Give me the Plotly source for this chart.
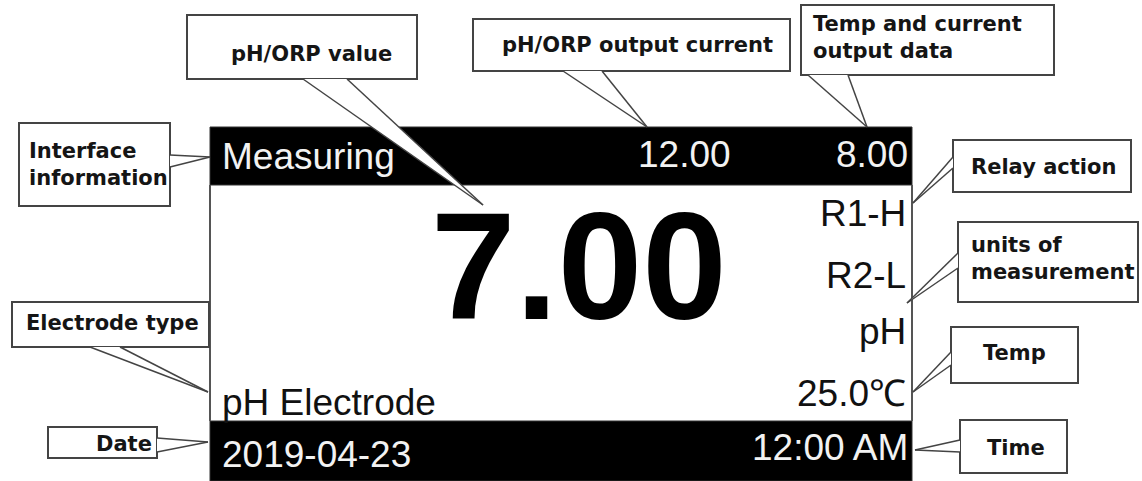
import plotly.graph_objects as go

# ---------------- data (texts) ----------------
status_text = "Measuring"
output_current = "12.00"
temp_current_output = "8.00"
relay_states = ["R1-H", "R2-L"]
unit_text = "pH"
temperature_text = "25.0℃"
main_value = "7.00"
electrode_text = "pH Electrode"
date_text = "2019-04-23"
time_text = "12:00 AM"

callout_labels = [
    "pH/ORP value",
    "pH/ORP output current",
    "Temp and current<br>output data",
    "Relay action",
    "units of<br>measurement",
    "Temp",
    "Time",
    "Interface<br>information",
    "Electrode type",
    "Date",
]

# ---------------- geometry (pixel layout) ----------------
W, H = 1142, 481
SCREEN_X0, SCREEN_X1 = 210, 912
TOPBAR_Y0, TOPBAR_Y1 = 127, 185
BOTBAR_Y0, BOTBAR_Y1 = 421, 481

# box (x0,y0,x1,y1), base point 1, base point 2, tip, text anchor (x,y), align
callout_geom = [
    ((187, 15, 417, 79), (303, 79), (347, 79), (483, 205), (311, 54), "center"),
    ((473, 19, 790, 71), (563, 71), (602, 71), (647, 127), (637, 45), "center"),
    ((801, 5, 1054, 75), (808, 75), (848, 75), (867, 127), (811, 37), "left"),
    ((953, 140, 1131, 192), (953, 157), (953, 168), (913, 203), (1043, 167), "center"),
    ((958, 222, 1138, 302), (958, 253), (958, 268), (907, 303), (969, 258), "left"),
    ((951, 327, 1078, 383), (951, 352), (951, 365), (913, 392), (1014, 353), "center"),
    ((960, 420, 1067, 473), (960, 440), (960, 452), (915, 450), (1016, 448), "center"),
    ((19, 123, 170, 206), (170, 155), (170, 167), (210, 157), (27, 164), "left"),
    ((12, 302, 209, 347), (90, 347), (120, 347), (208, 392), (112, 323), "center"),
    ((48, 427, 157, 458), (157, 438), (157, 452), (208, 442), (124, 444), "center"),
]

SCREEN_FONT = "Liberation Sans, Arial, sans-serif"
CALLOUT_FONT = "DejaVu Sans, sans-serif"
LINE_COL = "#444444"

fig = go.Figure()
shapes = []
annotations = []

# screen frame
shapes.append(dict(type="rect", xref="x", yref="y", x0=SCREEN_X0, x1=SCREEN_X1,
                   y0=TOPBAR_Y0, y1=TOPBAR_Y1, fillcolor="black",
                   line=dict(color="#333", width=1), layer="below"))
shapes.append(dict(type="rect", xref="x", yref="y", x0=SCREEN_X0, x1=SCREEN_X1,
                   y0=BOTBAR_Y0, y1=BOTBAR_Y1, fillcolor="black",
                   line=dict(color="#333", width=1), layer="below"))
for xv in (SCREEN_X0, SCREEN_X1):
    shapes.append(dict(type="line", xref="x", yref="y", x0=xv, x1=xv,
                       y0=TOPBAR_Y1, y1=BOTBAR_Y0,
                       line=dict(color="#555555", width=2)))

# callouts
for (box, b1, b2, tip, tpos, align), label in zip(callout_geom, callout_labels):
    x0, y0, x1, y1 = box
    shapes.append(dict(type="rect", xref="x", yref="y", x0=x0, y0=y0, x1=x1, y1=y1,
                       fillcolor="white", line=dict(color=LINE_COL, width=2)))
    path = f"M {b1[0]},{b1[1]} L {tip[0]},{tip[1]} L {b2[0]},{b2[1]} Z"
    shapes.append(dict(type="path", xref="x", yref="y", path=path,
                       fillcolor="white", line=dict(width=0)))
    for b in (b1, b2):
        shapes.append(dict(type="line", xref="x", yref="y", x0=b[0], y0=b[1],
                           x1=tip[0], y1=tip[1], line=dict(color=LINE_COL, width=1.5)))
    annotations.append(dict(x=tpos[0], y=tpos[1], xref="x", yref="y", text=f"<b>{label}</b>",
                            showarrow=False, xanchor=("left" if align == "left" else "center"),
                            yanchor="middle", align=align,
                            font=dict(family=CALLOUT_FONT, size=21, color="#151515")))

def screen_text(txt, x, y, xanchor, color, size=37, bold=False, family=SCREEN_FONT):
    annotations.append(dict(x=x, y=y, xref="x", yref="y",
                            text=(f"<b>{txt}</b>" if bold else txt),
                            showarrow=False, xanchor=xanchor, yanchor="middle",
                            font=dict(family=family, size=size, color=color)))

screen_text(status_text, 220, 156, "left", "#f2f2f2")
screen_text(output_current, 733, 154, "right", "#f2f2f2")
screen_text(temp_current_output, 910, 154, "right", "#f2f2f2")
screen_text(relay_states[0], 908, 213, "right", "#111")
screen_text(relay_states[1], 908, 275, "right", "#111")
screen_text(unit_text, 908, 331, "right", "#111")
screen_text(temperature_text, 908, 393, "right", "#111")
screen_text(electrode_text, 220, 402, "left", "#111")
screen_text(date_text, 220, 454, "left", "#f2f2f2")
screen_text(time_text, 910, 447, "right", "#f2f2f2")
screen_text(main_value, 579, 266, "center", "#000", size=152, bold=True)

fig.update_layout(
    width=W, height=H,
    margin=dict(l=0, r=0, t=0, b=0),
    paper_bgcolor="white", plot_bgcolor="white",
    xaxis=dict(range=[0, W], visible=False, fixedrange=True),
    yaxis=dict(range=[H, 0], visible=False, fixedrange=True),
    shapes=shapes, annotations=annotations, showlegend=False,
)
fig.write_html("out.html", config={"displayModeBar": False},
               post_script="document.body.style.margin='0';document.body.style.overflow='hidden';")
